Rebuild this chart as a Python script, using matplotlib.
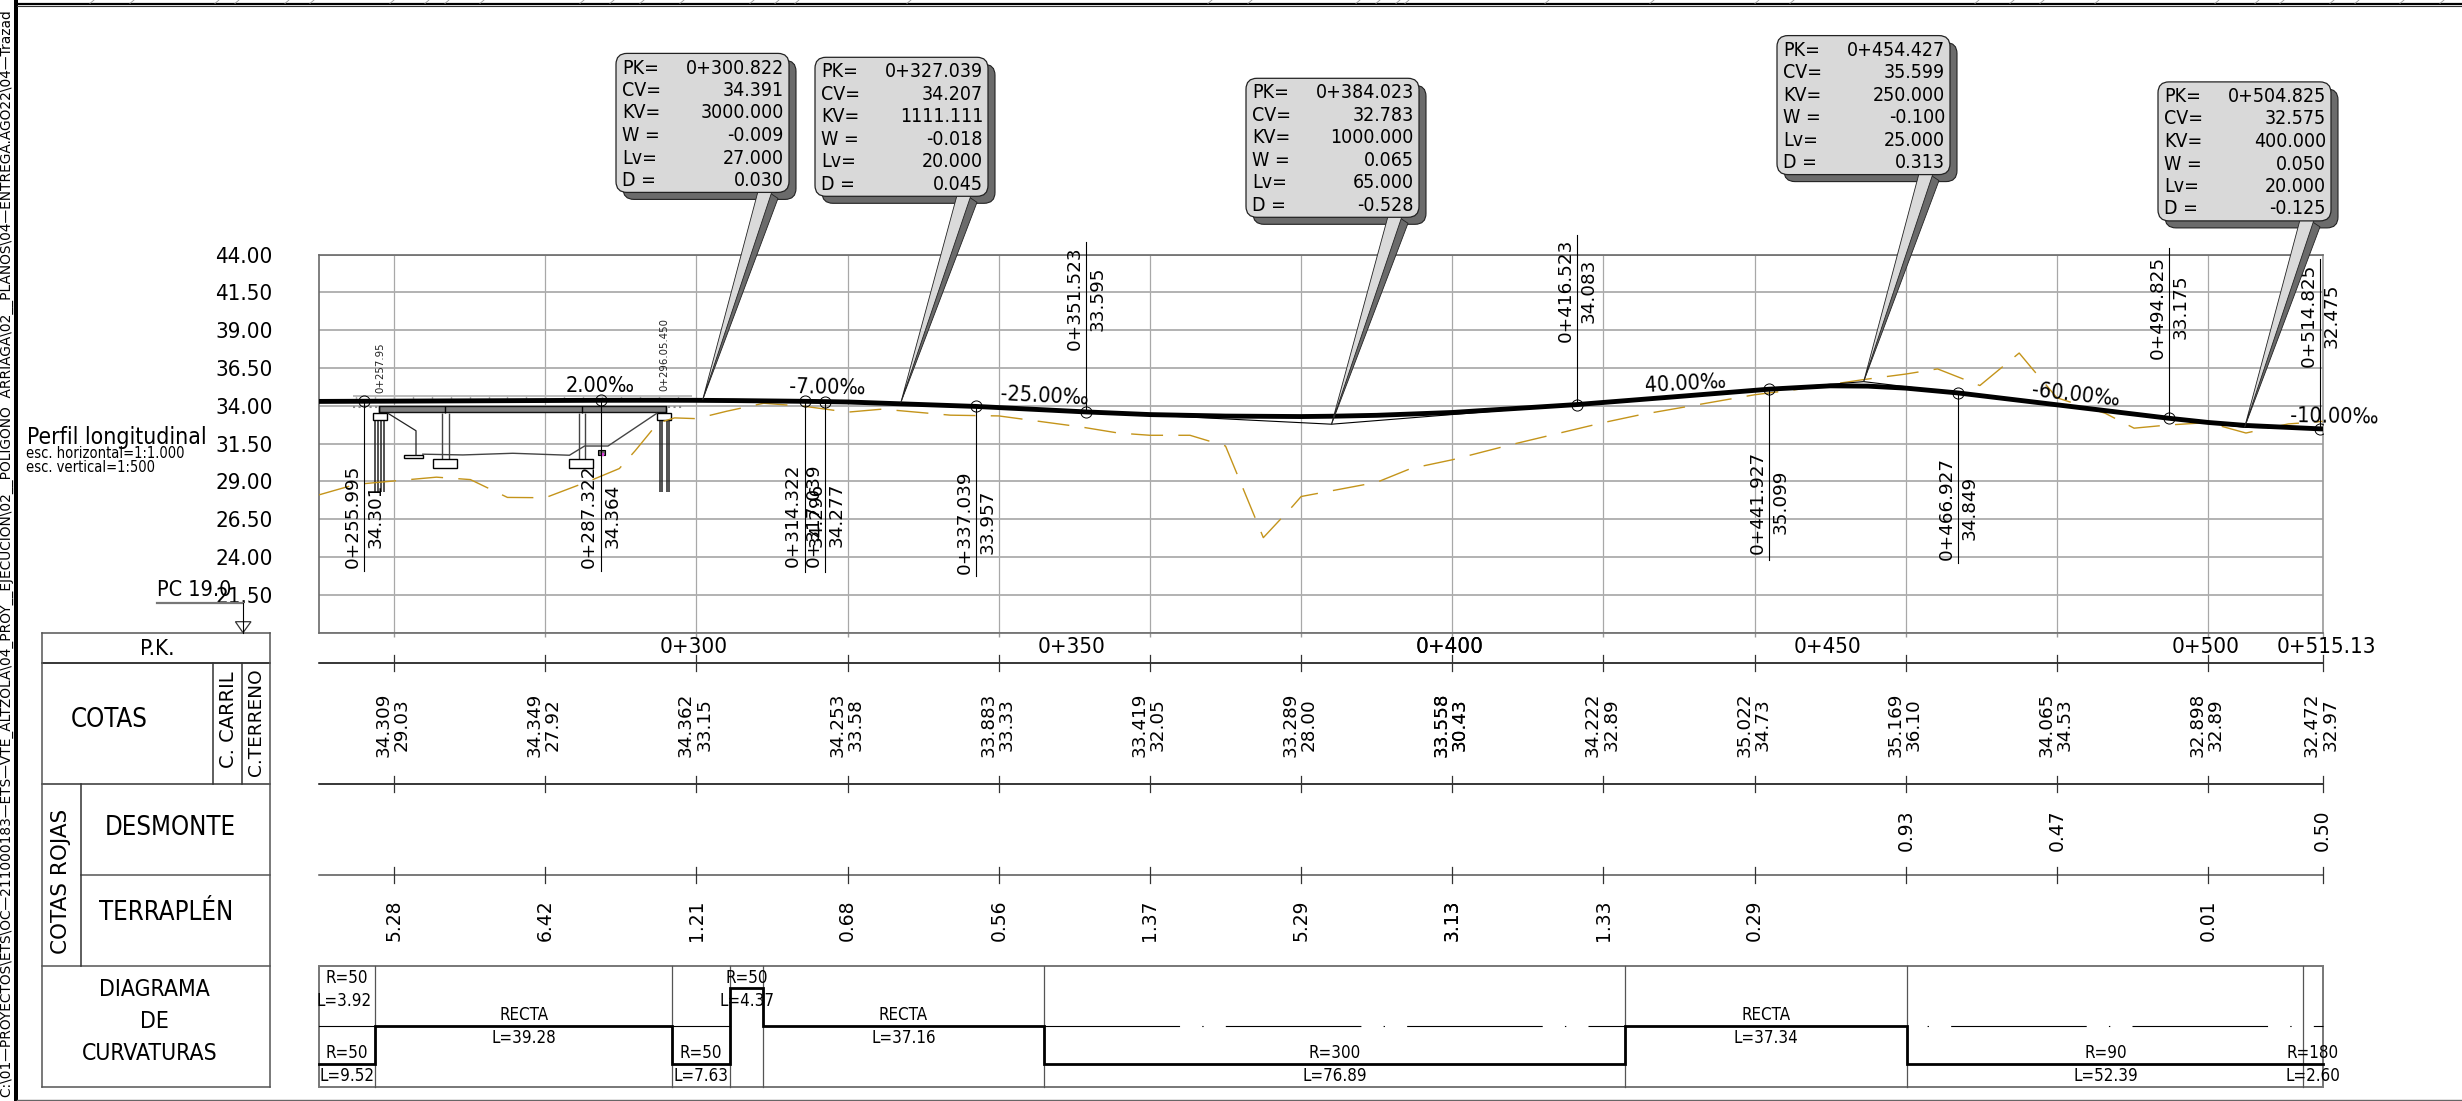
import matplotlib
matplotlib.use('Agg')
import matplotlib.pyplot as plt
from matplotlib.patches import FancyBboxPatch, Polygon, Rectangle
from matplotlib.transforms import blended_transform_factory

# guitar rows, every 20 m
stations = [260, 280, 300, 320, 340, 360, 380, 400, 420, 440, 460, 480, 500, 515.13]
cota_carril = [34.309, 34.349, 34.362, 34.253, 33.883, 33.419, 33.289, 33.558, 34.222, 35.022, 35.169, 34.065, 32.898, 32.472]
cota_terreno = [29.03, 27.92, 33.15, 33.58, 33.33, 32.05, 28.00, 30.43, 32.89, 34.73, 36.10, 34.53, 32.89, 32.97]
desmonte_pk = [460, 480, 515.13]
desmonte = [0.93, 0.47, 0.50]
terraplen_pk = [260, 280, 300, 320, 340, 360, 380, 400, 420, 440, 500]
terraplen = [5.28, 6.42, 1.21, 0.68, 0.56, 1.37, 5.29, 3.13, 1.33, 0.29, 0.01]
pk_labels = [300, 350, 400, 450, 500]

y_levels = [44, 41.5, 39, 36.5, 34, 31.5, 29, 26.5, 24, 21.5, 19]
y_labels = ['44.00', '41.50', '39.00', '36.50', '34.00', '31.50', '29.00', '26.50', '24.00', '21.50', '']

# rasante (thick line)
road_pk = [250, 255.995, 260, 280, 287.322, 295, 300, 305, 314.322, 317.039, 320, 337.039, 340, 351.523, 360, 370, 380, 384, 390, 400, 416.523, 420, 430, 440, 441.927, 450, 455, 460, 466.927, 480, 494.825, 500, 505, 514.825, 515.13]
road_z = [34.29, 34.301, 34.309, 34.349, 34.364, 34.368, 34.362, 34.345, 34.296, 34.277, 34.253, 33.957, 33.883, 33.595, 33.419, 33.32, 33.289, 33.31, 33.37, 33.558, 34.083, 34.222, 34.62, 35.022, 35.099, 35.32, 35.30, 35.169, 34.849, 34.065, 33.175, 32.898, 32.70, 32.475, 32.472]

# terreno (dashed line)
ground_pk = [250, 254.9, 260, 265.6, 270.1, 275, 280, 286, 289.8, 291.9, 294.9, 297.1, 300, 304, 308.9, 314.4, 320, 324.6, 333.6, 340, 350.9, 355.8, 360, 365.3, 370, 375, 378.9, 380, 390, 394.5, 400, 407.7, 420, 424.8, 440, 445.6, 454.5, 460, 464.2, 469.8, 475, 476.7, 478.4, 480, 486.4, 490.2, 494.7, 500, 505, 510.6, 515.13]
ground_z = [28.1, 28.8, 29.03, 29.28, 29.12, 27.94, 27.92, 29.06, 29.85, 31.03, 32.86, 33.2, 33.15, 33.64, 34.17, 33.96, 33.58, 33.78, 33.38, 33.33, 32.6, 32.2, 32.05, 32.05, 31.34, 25.28, 27.37, 28.0, 28.94, 29.85, 30.43, 31.42, 32.89, 33.4, 34.73, 35.08, 35.74, 36.10, 36.44, 35.34, 37.49, 36.47, 35.47, 34.53, 33.5, 32.52, 32.73, 32.89, 32.2, 32.8, 32.97]

# vertices of the vertical alignment
pvi_pk = [300.822, 327.039, 384.023, 454.427, 504.825]
pvi_cv = [34.391, 34.207, 32.783, 35.599, 32.575]
pvi_kv = [3000.000, 1111.111, 1000.000, 250.000, 400.000]
pvi_w = [-0.009, -0.018, 0.065, -0.100, 0.050]
pvi_lv = [27.000, 20.000, 65.000, 25.000, 20.000]
pvi_d = [0.030, 0.045, -0.528, 0.313, -0.125]
tangent_pk = [250, 300.822, 327.039, 384.023, 454.427, 504.825, 515.13]
tangent_z = [34.29, 34.391, 34.207, 32.783, 35.599, 32.575, 32.472]

# tangency points with their leader lines
tp_pk = [255.995, 287.322, 314.322, 317.039, 337.039, 351.523, 416.523, 441.927, 466.927, 494.825, 514.825]
tp_z = [34.301, 34.364, 34.296, 34.277, 33.957, 33.595, 34.083, 35.099, 34.849, 33.175, 32.475]

# grades
grade_text = ['2.00‰', '-7.00‰', '-25.00‰', '40.00‰', '-60.00‰', '-10.00‰']

# curvature diagram
curve_breaks = [250, 257.54, 296.82, 304.45, 308.82, 345.98, 422.87, 460.21, 512.6, 515.13]
curve_level = [-1, 0, -1, 1, 0, -1, 0, -1, -1]
curve_r = ['R=50', 'RECTA', 'R=50', 'R=50', 'RECTA', 'R=300', 'RECTA', 'R=90', 'R=180']
curve_l = ['L=9.52', 'L=39.28', 'L=7.63', 'L=4.37', 'L=37.16', 'L=76.89', 'L=37.34', 'L=52.39', 'L=2.60']

# bridge sketch
post_pk = [255, 257.5, 260, 262.5, 265, 267.5, 270, 272.5, 275, 277.5, 280, 282.5, 285, 287.5, 290, 292.5, 295, 297.5]
deck_pk = [257.95, 296.03]
pile_pk = [257.5, 257.9, 258.3, 258.6, 295.15, 295.45, 296.1, 296.4]
column_pk = [266.4, 267.2, 284.4, 285.2]
bent_pk = [257.95, 266.8, 284.8, 296.03]
bank_pk = [259.2, 262.9, 262.9]
bank_z = [33.5, 32.35, 30.75]
natural_pk = [263.8, 269.1, 275.7, 283.2, 285.2, 288.3, 294.75]
natural_z = [30.8, 30.75, 30.86, 30.73, 31.34, 31.34, 33.5]

plt.rcParams['font.family'] = ['DejaVu Sans']
narrow = dict(family='DejaVu Sans', stretch='condensed')

W, H = 2462, 1101
fig = plt.figure(figsize=(W / 100, H / 100), dpi=100, facecolor='white')

# profile axes: 7.56 px/m across, 15.12 px/m up
top_px, bottom_px, left_px, right_px = 254.6, 632.6, 318.5, 2322.5
ax = fig.add_axes([left_px / W, 1 - bottom_px / H, (right_px - left_px) / W, (bottom_px - top_px) / H])
ax.set_xlim(250, 515.13)
ax.set_ylim(19, 44)
ax.patch.set_alpha(0)
ax.set_xticks(stations)
ax.set_xticklabels([])
ax.set_yticks(y_levels)
ax.set_yticklabels(y_labels, fontsize=16, **narrow)
ax.tick_params(axis='y', length=0, pad=33)
ax.tick_params(axis='x', length=3, color='#999999', width=1)
ax.grid(axis='x', color='#a8a8a8', linewidth=0.9, zorder=1)
ax.grid(axis='y', color='#adadad', linewidth=1.3, zorder=1)
for s in ax.spines.values():
    s.set_color('#6a6a6a')
    s.set_linewidth(1.2)
ax.spines['right'].set_color('#999999')

# sheet axes in pixels, on top of the profile
sheet = fig.add_axes([0, 0, 1, 1], zorder=3)
sheet.set_xlim(0, W)
sheet.set_ylim(H, 0)
sheet.axis('off')
col = blended_transform_factory(ax.transData, sheet.transData)


def to_sheet(pk, z):
    return sheet.transData.inverted().transform(ax.transData.transform((pk, z)))


def col_text(txt, pk, y, dx=0, **kw):
    # text on a station column, dx in pixels
    sheet.annotate(txt, (pk, y), xycoords=col, xytext=(dx, 0), textcoords='offset pixels', ha='center', va='center', **kw)


# bridge
ax.hlines(34.67, 254.5, 299.4, color='#bdbdbd', lw=1.4, zorder=2)
ax.vlines(post_pk, 34.3, 34.67, color='#b5b5b5', lw=1, zorder=2)
ax.hlines([33.93, 33.93], [254.5, 296.2], [257.9, 298.4], color='#888888', lw=1.5, ls=':', zorder=2)
ax.fill_between(deck_pk, 33.6, 34.0, facecolor='#808080', edgecolor='#111111', lw=1, zorder=3)
ax.vlines(bent_pk, 33.5, 34.0, color='black', lw=1, zorder=3)
ax.vlines(pile_pk, 28.3, 33.05, color='#222222', lw=1.1, zorder=3)
ax.vlines(column_pk, 30.46, 33.5, color='#444444', lw=1, zorder=3)
for x0, z0, w, h in [(257.2, 33.05, 1.9, 0.45), (294.75, 33.05, 1.95, 0.45), (265.2, 29.9, 3.1, 0.56), (283.2, 29.9, 3.1, 0.56), (261.3, 30.55, 2.5, 0.2)]:
    ax.add_patch(Rectangle((x0, z0), w, h, facecolor='white', edgecolor='black', lw=1, zorder=3))
ax.plot(bank_pk, bank_z, color='#222222', lw=0.9, zorder=3)
ax.plot(natural_pk, natural_z, color='#444444', lw=1, zorder=3)
ax.add_patch(Rectangle((286.95, 30.75), 0.95, 0.32, facecolor='#666666', edgecolor='black', lw=0.8, zorder=3))
ax.plot([287.47], [30.8], 's', color='#e040e0', ms=2, zorder=4)

# terrain, tangents, road
ax.plot(ground_pk, ground_z, color='#c4941a', lw=1, ls=(0, (23, 11)), zorder=4)
ax.plot(tangent_pk, tangent_z, color='black', lw=0.8, zorder=4)
ax.plot(road_pk, road_z, color='black', lw=3.5, solid_capstyle='round', zorder=5)
ax.plot(tp_pk, tp_z, 'o', mfc='none', mec='black', mew=0.7, ms=8, zorder=6)

# leader lines, label pairs (line end and text centre in pixels)
tp_end_px = [571, 571, 572, 572, 576, 242, 234.5, 559.5, 563, 248, 259]
tp_mid_px = [516, 516, 515, 515, 522, 298.5, 290.6, 502, 508, 307, 315.5]
for pk, z, end, mid in zip(tp_pk, tp_z, tp_end_px, tp_mid_px):
    x, y = to_sheet(pk, z)
    sheet.plot([x, x], [y, end], color='black', lw=0.8, zorder=2)
    sheet.text(x - 11.5, mid, f'0+{pk:.3f}', rotation=90, ha='center', va='center', fontsize=13.2)
    sheet.text(x + 11.5, mid, f'{z:.3f}', rotation=90, ha='center', va='center', fontsize=13.2)

sheet.text(380, 368, '0+257.95', rotation=90, ha='center', va='center', fontsize=7.3, color='#222222')
sheet.text(664, 354.5, '0+296.05.450', rotation=90, ha='center', va='center', fontsize=7.3, color='#222222')

# grade labels
grade_x = [600, 827, 1044, 1685, 2076, 2334]
grade_y = [385.5, 388, 396.6, 383.6, 394.6, 416.4]
grade_rot = [0, -1, -3, 3, -6.5, -1]
for t, x, y, r in zip(grade_text, grade_x, grade_y, grade_rot):
    sheet.text(x, y, t, ha='center', va='center', rotation=r, rotation_mode='anchor', fontsize=15.5, **narrow)

# callouts
box_left = [616, 815, 1246, 1777, 2158]
box_top = [53.4, 57.3, 78.3, 35.6, 81.9]
row_names = ['PK=', 'CV=', 'KV=', 'W =', 'Lv=', 'D =']
box_w, box_h = 173, 139
rounded = 'round,pad=0,rounding_size=11'
for i in range(len(pvi_pk)):
    x0, y0 = box_left[i], box_top[i]
    tx, ty = to_sheet(pvi_pk[i], pvi_cv[i])
    right, low = x0 + box_w, y0 + box_h
    sheet.add_patch(FancyBboxPatch((x0 + 7, y0 + 7), box_w, box_h, boxstyle=rounded, facecolor='#6b6b6b', edgecolor='#222222', lw=0.8, zorder=5))
    sheet.add_patch(Polygon([(right - 20, low), (right - 11, low + 6), (tx, ty)], facecolor='#6b6b6b', edgecolor='#222222', lw=0.6, zorder=5))
    sheet.add_patch(Polygon([(right - 31, low - 1), (right - 17, low - 1), (tx, ty)], facecolor='#dadada', edgecolor='#222222', lw=0.6, zorder=6))
    sheet.add_patch(FancyBboxPatch((x0, y0), box_w, box_h, boxstyle=rounded, facecolor='#d9d9d9', edgecolor='#222222', lw=0.9, zorder=7))
    values = [f'0+{pvi_pk[i]:.3f}', f'{pvi_cv[i]:.3f}', f'{pvi_kv[i]:.3f}', f'{pvi_w[i]:.3f}', f'{pvi_lv[i]:.3f}', f'{pvi_d[i]:.3f}']
    for j in range(6):
        yy = y0 + 14.6 + 22.5 * j
        sheet.text(x0 + 6, yy, row_names[j], ha='left', va='center', fontsize=14, zorder=8, **narrow)
        sheet.text(x0 + 168, yy, values[j], ha='right', va='center', fontsize=14, zorder=8, **narrow)

# guitar lines and ticks
row_y = [663.3, 784, 875.3]
row_color = ['black', 'black', '#555555']
for y, c in zip(row_y, row_color):
    sheet.plot([left_px, right_px], [y, y], color=c, lw=1.1)
    for pk in stations:
        sheet.plot([pk, pk], [y - 8, y + 8], color='#333333', lw=0.9, transform=col)

# the 0+400 column is drawn twice on the sheet, so it looks bolder
for pk, a, b in zip(stations, cota_carril, cota_terreno):
    for _ in range(2 if pk == 400 else 1):
        col_text(f'{a:.3f}', pk, 725, dx=-10.5, rotation=90, fontsize=13.2)
        col_text(f'{b:.2f}', pk, 725, dx=7.7, rotation=90, fontsize=13.2)
for pk, v in zip(desmonte_pk, desmonte):
    col_text(f'{v:.2f}', pk, 830, rotation=90, fontsize=13.5)
for pk, v in zip(terraplen_pk, terraplen):
    for _ in range(2 if pk == 400 else 1):
        col_text(f'{v:.2f}', pk, 920, rotation=90, fontsize=13.5)
for pk in pk_labels:
    for _ in range(2 if pk == 400 else 1):
        col_text(f'0+{pk}', pk, 646.7, dx=-3, fontsize=16, **narrow)
col_text('0+515.13', 515.13, 646.7, dx=4, fontsize=16, **narrow)

# curvature diagram
level_y = {1: 988.3, 0: 1026, -1: 1064}
name_y = {1: 977.7, 0: 1015.3, -1: 1053.3}
len_y = {1: 1001, 0: 1037.7, -1: 1075.7}
sheet.add_patch(Rectangle((left_px, 965.7), right_px - left_px, 121, facecolor='none', edgecolor='#777777', lw=1.4))
for pk in curve_breaks[1:-1]:
    sheet.plot([pk, pk], [965.7, 1086.7], color='#555555', lw=0.9, transform=col)
sheet.plot([250, 304.45], [1026, 1026], color='black', lw=0.8, transform=col)
sheet.plot([345.98, 515.13], [1026, 1026], color='black', lw=0.8, ls=(0, (122, 20, 1.2, 20)), transform=col)
step_x, step_y = [], []
for i, lev in enumerate(curve_level):
    step_x += [curve_breaks[i], curve_breaks[i + 1]]
    step_y += [level_y[lev], level_y[lev]]
    mid = (curve_breaks[i] + curve_breaks[i + 1]) / 2
    col_text(curve_r[i], mid, name_y[lev], fontsize=12.2, **narrow)
    col_text(curve_l[i], mid, len_y[lev], fontsize=12.2, **narrow)
sheet.plot(step_x, step_y, color='black', lw=2, transform=col, solid_joinstyle='miter', zorder=4)
col_text('R=50', 253.77, name_y[1], fontsize=12.2, **narrow)
col_text('L=3.92', 253.4, len_y[1], fontsize=12.2, **narrow)

# left table
for x0, y0, x1, y1, c in [(42.4, 633, 270, 633, '#555555'), (42.4, 663.3, 270, 663.3, 'black'), (42.4, 784, 270, 784, '#333333'),
                          (80.5, 875.3, 270, 875.3, '#555555'), (42.4, 965.7, 270, 965.7, '#555555'), (42.4, 1086.7, 270, 1086.7, '#555555'),
                          (42.4, 633, 42.4, 1086.7, '#555555'), (270, 633, 270, 1086.7, '#555555'),
                          (213.4, 663.3, 213.4, 784, '#333333'), (241.6, 663.3, 241.6, 784, '#333333'), (80.5, 784, 80.5, 965.7, '#333333')]:
    sheet.plot([x0, x1], [y0, y1], color=c, lw=1.1)
for t, x, y, fs in [('P.K.', 157, 649, 16), ('COTAS', 108.8, 720, 18.5), ('DESMONTE', 170.5, 827.7, 18.5), ('TERRAPLÉN', 166.3, 913.3, 18.5),
                    ('DIAGRAMA', 154.8, 989.3, 16.5), ('DE', 154, 1021.7, 16.5), ('CURVATURAS', 149.6, 1054, 16.5)]:
    sheet.text(x, y, t, ha='center', va='center', fontsize=fs, **narrow)
sheet.text(228.5, 720, 'C. CARRIL', rotation=90, ha='center', va='center', fontsize=14)
sheet.text(256, 722, 'C.TERRENO', rotation=90, ha='center', va='center', fontsize=13.3)
sheet.text(60.7, 881.7, 'COTAS ROJAS', rotation=90, ha='center', va='center', fontsize=15.5)

# title block of the profile and PC mark
sheet.text(27, 437.7, 'Perfil longitudinal', ha='left', va='center', fontsize=16.5, **narrow)
sheet.text(26, 453.5, 'esc. horizontal=1:1.000', ha='left', va='center', fontsize=10.5, **narrow)
sheet.text(26, 467.8, 'esc. vertical=1:500', ha='left', va='center', fontsize=10.5, **narrow)
sheet.text(157, 590, 'PC 19.0', ha='left', va='center', fontsize=15.5, **narrow)
sheet.plot([157, 243], [602.6, 602.6], color='#777777', lw=1.6)
sheet.plot([243, 243], [602.6, 633], color='black', lw=0.8)
sheet.add_patch(Polygon([(235.4, 621.7), (251, 621.7), (243, 632.7)], facecolor='white', edgecolor='#333333', lw=0.9))

# drawing frame and cut-off sketch at the top edge
sheet.add_patch(Rectangle((14, 0), 3.5, H, facecolor='black', edgecolor='none'))
sheet.plot([17, W], [4.2, 4.2], color='black', lw=1.6)
sheet.plot([17, W], [6.3, 6.3], color='#333333', lw=0.8)
sheet.plot([17, W], [1100, 1100], color='#666666', lw=1)
for x in [90, 130, 215, 235, 285, 310, 390, 425, 445, 480, 580, 610, 640, 680, 750, 775, 795, 907, 1208, 1248, 1356, 1376, 1396, 1405, 1545, 1650, 1755, 1790, 1975, 2010, 2040, 2095, 2215, 2255, 2280, 2330, 2355, 2400, 2440]:
    sheet.plot([x, x + 4], [3.4, 0], color='#999999', lw=0.6)
sheet.text(6.5, 1097, r'C:\01—PROYECTOS\ETS\OC—211000183—ETS—VTE_ALTZOLA\04_PROY__EJECUCION\02__POLIGONO  ARRIAGA\02__PLANOS\04—ENTREGA.AGO22\04—Trazad',
           rotation=90, ha='center', va='bottom', fontsize=9.9)

fig.savefig('out.png', dpi=100)
